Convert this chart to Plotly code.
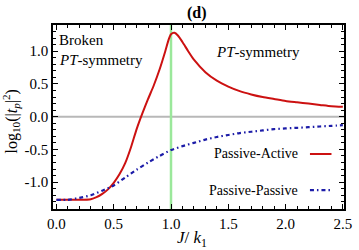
import plotly.graph_objects as go

# ---- data ----
x_red = [0, 0.1, 0.2, 0.3, 0.35, 0.4, 0.45, 0.5, 0.55, 0.6, 0.65, 0.7, 0.75, 0.8, 0.85,
         0.9, 0.95, 0.98, 1.0, 1.03, 1.06, 1.1, 1.15, 1.2, 1.3, 1.4, 1.5, 1.6, 1.7, 1.8,
         1.9, 2.0, 2.1, 2.2, 2.3, 2.4, 2.5]
y_red = [-1.27, -1.27, -1.27, -1.26, -1.23, -1.18, -1.11, -1.01, -0.88, -0.71, -0.47,
         -0.19, 0.05, 0.27, 0.48, 0.72, 1.0, 1.18, 1.26, 1.28, 1.24, 1.14, 1.0, 0.87,
         0.68, 0.55, 0.46, 0.39, 0.34, 0.30, 0.27, 0.24, 0.22, 0.20, 0.18, 0.16, 0.15]

x_blue = [0, 0.1, 0.2, 0.3, 0.4, 0.5, 0.6, 0.7, 0.8, 0.9, 1.0, 1.1, 1.2, 1.3, 1.4, 1.5,
          1.6, 1.7, 1.8, 1.9, 2.0, 2.1, 2.2, 2.3, 2.4, 2.5]
y_blue = [-1.27, -1.27, -1.24, -1.2, -1.13, -1.05, -0.93, -0.81, -0.7, -0.6, -0.51,
          -0.45, -0.40, -0.35, -0.31, -0.28, -0.25, -0.23, -0.21, -0.19, -0.18, -0.17,
          -0.16, -0.15, -0.14, -0.13]

x_ticks = [0.0, 0.5, 1.0, 1.5, 2.0, 2.5]
x_ticklabels = ["0.0", "0.5", "1.0", "1.5", "2.0", "2.5"]
y_ticks = [-1.0, -0.5, 0.0, 0.5, 1.0]
y_ticklabels = ["-1.0", "-0.5", "0.0", "0.5", "1.0"]
series_names = ["Passive-Active", "Passive-Passive"]
x_marker_line = 1.0

RED = "#cc1111"
BLUE = "#1c1ca8"
FONT = "Liberation Serif"

fig = go.Figure()
fig.add_trace(go.Scatter(x=x_red, y=y_red, mode="lines", name=series_names[0],
                         line=dict(color=RED, width=2, shape="spline", smoothing=0.6)))
fig.add_trace(go.Scatter(x=x_blue, y=y_blue, mode="lines", name=series_names[1],
                         line=dict(color=BLUE, width=2.2, dash="4px,3px,1.5px,3px",
                                   shape="spline", smoothing=0.6)))

# reference lines
fig.add_hline(y=0, line=dict(color="#b8b8b8", width=2), layer="below")
fig.add_vline(x=x_marker_line, line=dict(color="#9be89b", width=2.5), layer="below")

axis_common = dict(
    showline=True, linecolor="black", linewidth=1.5, mirror="allticks",
    ticks="inside", ticklen=5, tickwidth=1, tickcolor="black",
    showgrid=False, zeroline=False, ticklabeloverflow="allow",
    tickfont=dict(family=FONT, size=15, color="black"),
)
fig.update_xaxes(range=[-0.03, 2.51], tickvals=x_ticks, ticktext=x_ticklabels,
                 minor=dict(dtick=0.1, ticks="inside", ticklen=3, tickcolor="black",
                            showgrid=False),
                 **axis_common)
fig.update_yaxes(range=[-1.41, 1.40], tickvals=y_ticks, ticktext=y_ticklabels,
                 minor=dict(dtick=0.1, ticks="inside", ticklen=3, tickcolor="black",
                            showgrid=False),
                 **axis_common)

PT = "<i>PT</i>"
ann = [
    dict(text="<b>(d)</b>", x=0.495, y=1.065, size=16, xanchor="center"),
    dict(text="Broken", x=0.013, y=0.918, size=15, xanchor="left"),
    dict(text=PT + "-symmetry", x=0.013, y=0.81, size=15, xanchor="left"),
    dict(text=PT + "-symmetry", x=0.553, y=0.853, size=15, xanchor="left"),
    dict(text=series_names[0], x=0.849, y=0.299, size=14, xanchor="right"),
    dict(text=series_names[1], x=0.849, y=0.103, size=14, xanchor="right"),
    dict(text="<i>J</i>/ <i>k</i><sub>1</sub>", x=0.478, y=-0.165, size=17,
         xanchor="center"),
]
for a in ann:
    fig.add_annotation(text=a["text"], x=a["x"], y=a["y"], xref="paper", yref="paper",
                       xanchor=a["xanchor"], yanchor="middle", showarrow=False,
                       font=dict(family=FONT, size=a["size"], color="black"))

fig.add_annotation(text="log<sub>10</sub>(|<i>t</i><sub><i>p</i></sub>|<sup>2</sup>)",
                   x=-0.143, y=0.478, xref="paper", yref="paper", textangle=-90,
                   xanchor="center", yanchor="middle", showarrow=False,
                   font=dict(family=FONT, size=16, color="black"))

# legend samples
fig.add_shape(type="line", xref="paper", yref="paper", x0=0.883, x1=0.957,
              y0=0.299, y1=0.299, line=dict(color=RED, width=2))
fig.add_shape(type="line", xref="paper", yref="paper", x0=0.883, x1=0.957,
              y0=0.103, y1=0.103, line=dict(color=BLUE, width=2.2, dash="4px,3px,1.5px,3px"))

fig.update_layout(
    width=359, height=250,
    margin=dict(l=53, r=7, t=25, b=41),
    paper_bgcolor="white", plot_bgcolor="white",
    showlegend=False,
    font=dict(family=FONT, color="black"),
)

fig.write_html("out.html", config={"displayModeBar": False},
               post_script="document.body.style.margin='0';document.body.style.padding='0';")
